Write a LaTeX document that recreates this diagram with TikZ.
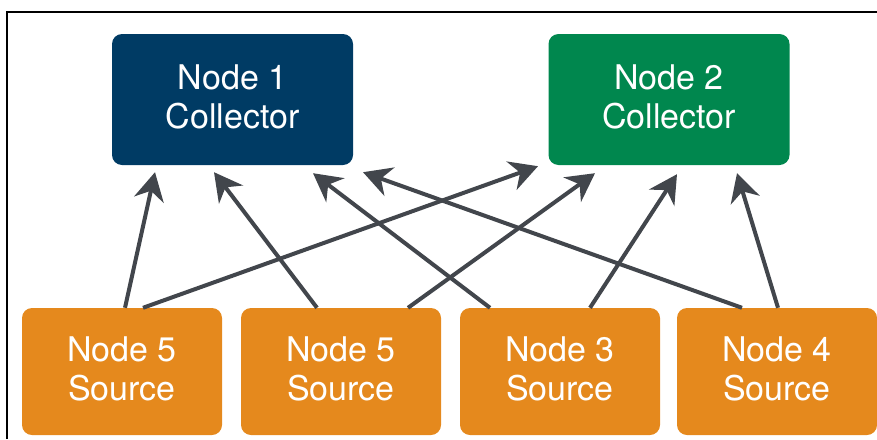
\documentclass[tikz,border=0pt]{standalone}
\usepackage{fontspec}
\setmainfont{TeX Gyre Heros}
\usetikzlibrary{arrows.meta}
\definecolor{cblue}{HTML}{003B64}
\definecolor{cgreen}{HTML}{00874E}
\definecolor{corange}{HTML}{E5891D}
\definecolor{cgray}{HTML}{42464C}
\begin{document}
\begin{tikzpicture}[x=1pt,y=-1pt,
  box/.style={rounded corners=10pt, inner sep=0pt, align=center, text=white,
    text depth=6pt, font=\fontsize{34}{39}\selectfont},
  collector/.style={box, minimum width=241pt, minimum height=131pt},
  source/.style={box, fill=corange, minimum width=200pt, minimum height=127pt},
  link/.style={draw=cgray, line width=4pt,
    -{Stealth[length=28pt, width=30pt, inset=9pt]}}]
\useasboundingbox (0,0) rectangle (877,439);
\draw[line width=1.5pt] (7,439) -- (7,12) -- (877,12);
\node[collector, fill=cblue] (n1) at (232.5,99.5) {Node 1\\Collector};
\node[collector, fill=cgreen] (n2) at (669,99.5) {Node 2\\Collector};
\node[source] (s1) at (122,371.5) {Node 5\\Source};
\node[source] (s2) at (341,371.5) {Node 5\\Source};
\node[source] (s3) at (560,371.5) {Node 3\\Source};
\node[source] (s4) at (777,371.5) {Node 4\\Source};
\draw[link] ([xshift=3pt]s1.north) -- ([xshift=-77.5pt,yshift=-7pt]n1.south);
\draw[link] ([xshift=-24pt]s2.north) -- ([xshift=-18.5pt,yshift=-7pt]n1.south);
\draw[link] ([xshift=21pt]s1.north) -- ([xshift=-131pt,yshift=-1pt]n2.south);
\draw[link] ([xshift=67pt]s2.north) -- ([xshift=-74pt,yshift=-8pt]n2.south);
\draw[link] ([xshift=-70pt]s3.north) -- ([xshift=80.5pt,yshift=-8pt]n1.south);
\draw[link] ([xshift=30pt]s3.north) -- ([xshift=8pt,yshift=-9pt]n2.south);
\draw[link] ([xshift=-35pt]s4.north) -- ([xshift=130.5pt,yshift=-7pt]n1.south);
\draw[link] ([xshift=1pt]s4.north) -- ([xshift=68pt,yshift=-8pt]n2.south);
\end{tikzpicture}
\end{document}
